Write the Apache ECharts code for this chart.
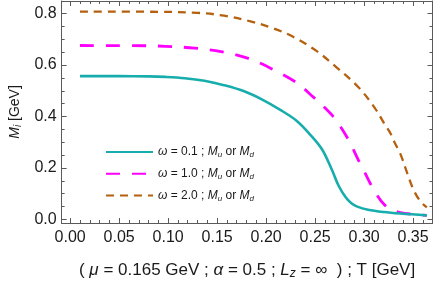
<!DOCTYPE html>
<html><head><meta charset="utf-8">
<script src="https://cdn.jsdelivr.net/npm/echarts@6/dist/echarts.min.js"></script>
<style>html,body{margin:0;padding:0;background:#fff}#c{width:436px;height:285px}</style>
</head><body><div id="c"></div>
<script>
// ---- data ----
var seriesNames = ['ω = 0.1 ; M_u or M_d', 'ω = 1.0 ; M_u or M_d', 'ω = 2.0 ; M_u or M_d'];
var omegaLabels = ['0.1', '1.0', '2.0'];
var tealT = [0.01,0.05,0.08,0.097,0.117,0.137,0.157,0.177,0.197,0.214,0.231,0.244,0.257,0.267,0.274,0.281,0.287,0.293,0.304,0.32,0.337,0.364];
var tealM = [0.557,0.557,0.556,0.554,0.549,0.539,0.522,0.499,0.464,0.427,0.384,0.334,0.273,0.194,0.131,0.087,0.063,0.05,0.038,0.029,0.023,0.016];
var magT = [0.01,0.08,0.097,0.127,0.154,0.181,0.206,0.231,0.246,0.261,0.271,0.284,0.294,0.301,0.311,0.321,0.329,0.337,0.348,0.364];
var magM = [0.676,0.675,0.673,0.666,0.652,0.627,0.585,0.532,0.483,0.43,0.388,0.31,0.232,0.18,0.108,0.056,0.037,0.027,0.021,0.016];
var brT = [0.01,0.09,0.13,0.157,0.184,0.207,0.227,0.251,0.271,0.294,0.311,0.321,0.327,0.331,0.337,0.344,0.349,0.354,0.359,0.364];
var brM = [0.808,0.807,0.803,0.792,0.770,0.743,0.711,0.656,0.594,0.515,0.433,0.37,0.334,0.30,0.255,0.18,0.128,0.09,0.064,0.047];
var xTickLabels = ['0.00','0.05','0.10','0.15','0.20','0.25','0.30','0.35'];
var yTickLabels = ['0.0','0.2','0.4','0.6','0.8'];

function pairs(t, m) { return t.map(function (v, i) { return [v, m[i]]; }); }

var frame = '#5a5a5a';
var txt = '#1a1a1a';
var fontFam = '"Liberation Sans", Arial, sans-serif';
var xMin = -0.0087, xMax = 0.3698, yMin = -0.0137, yMax = 0.849;

function axisCommon(showLabels, pos) {
  return {
    type: 'value', position: pos,
    min: xMin, max: xMax,
    splitNumber: 8,
    axisLine: { show: true, onZero: false, lineStyle: { color: frame, width: 1 } },
    axisTick: { show: true, inside: true, length: 5, lineStyle: { color: frame } },
    minorTick: { show: true, splitNumber: 5, length: 3, lineStyle: { color: frame } },
    splitLine: { show: false },
    axisLabel: { show: showLabels, showMinLabel: false, showMaxLabel: false, color: txt, fontSize: 16, fontFamily: fontFam, margin: 7,
      formatter: function (v) { var s = v.toFixed(2); return xTickLabels.indexOf(s) >= 0 ? s : ''; } }
  };
}
function yAxisCommon(showLabels, pos) {
  return {
    type: 'value', position: pos,
    min: yMin, max: yMax,
    splitNumber: 5,
    axisLine: { show: true, onZero: false, lineStyle: { color: frame, width: 1 } },
    axisTick: { show: true, inside: true, length: 5, lineStyle: { color: frame } },
    minorTick: { show: true, splitNumber: 4, length: 3, lineStyle: { color: frame } },
    splitLine: { show: false },
    axisLabel: { show: showLabels, showMinLabel: false, showMaxLabel: false, color: txt, fontSize: 16, fontFamily: fontFam, margin: 5,
      formatter: function (v) { var s = v.toFixed(1); return yTickLabels.indexOf(s) >= 0 ? s : ''; } }
  };
}

var xb = axisCommon(true, 'bottom');
xb.name = '( {i|μ} = 0.165 GeV ; {i|α} = 0.5 ; {i|L}{s|z} = ∞  ) ; T [GeV]';
xb.nameLocation = 'middle';
xb.nameGap = 37;
xb.nameTextStyle = { color: txt, fontSize: 17, fontFamily: fontFam,
  rich: { i: { fontStyle: 'italic', fontSize: 17, fontFamily: fontFam, color: txt },
          s: { fontStyle: 'italic', fontSize: 12, fontFamily: fontFam, color: txt, padding: [8, 0, 0, 0] } } };
var xt = axisCommon(false, 'top');

var yl = yAxisCommon(true, 'left');
yl.name = '{i|M}{s|i} [GeV]';
yl.nameLocation = 'middle';
yl.nameGap = 37;
yl.nameRotate = 90;
yl.nameTextStyle = { color: txt, fontSize: 14, fontFamily: fontFam,
  rich: { i: { fontStyle: 'italic', fontSize: 14, fontFamily: fontFam, color: txt },
          s: { fontStyle: 'italic', fontSize: 10, fontFamily: fontFam, color: txt, padding: [7, 0, 0, 0] } } };
var yr = yAxisCommon(false, 'right');

var colors = ['#17adad', '#ff00ff', '#b5600e'];
var lineStyles = [
  { color: colors[0], width: 2.6, type: 'solid' },
  { color: colors[1], width: 2.8, type: [14, 12] },
  { color: colors[2], width: 2.3, type: [8, 6] }
];
var datas = [pairs(tealT, tealM), pairs(magT, magM), pairs(brT, brM)];

var series = datas.map(function (d, k) {
  return { name: seriesNames[k], type: 'line', data: d, xAxisIndex: 0, yAxisIndex: 0,
    showSymbol: false, symbol: 'none', smooth: 0.35,
    lineStyle: lineStyles[k], itemStyle: { color: colors[k] }, animation: false, z: 3 - k };
});

var chart = echarts.init(document.getElementById('c'), null, { renderer: 'canvas' });
chart.setOption({
  animation: false,
  grid: { left: 54, right: 3.5, top: 1, bottom: 51, containLabel: false },
  xAxis: [xb, xt],
  yAxis: [yl, yr],
  legend: {
    show: true,
    orient: 'vertical', left: 100, top: 141, itemWidth: 47, itemHeight: 14, itemGap: 8.8,
    itemStyle: { opacity: 0 },
    data: seriesNames,
    textStyle: { color: txt, fontSize: 12, fontFamily: fontFam,
      rich: { i: { fontStyle: 'italic', fontSize: 12, fontFamily: fontFam, color: txt },
              s: { fontStyle: 'italic', fontSize: 8, fontFamily: fontFam, color: txt, padding: [6, 0, 0, 0] } } },
    formatter: function (name) {
      var k = seriesNames.indexOf(name);
      return '{i|ω} = ' + omegaLabels[k] + ' ; {i|M}{s|u} or {i|M}{s|d}';
    }
  },
  series: series
});
</script></body></html>
